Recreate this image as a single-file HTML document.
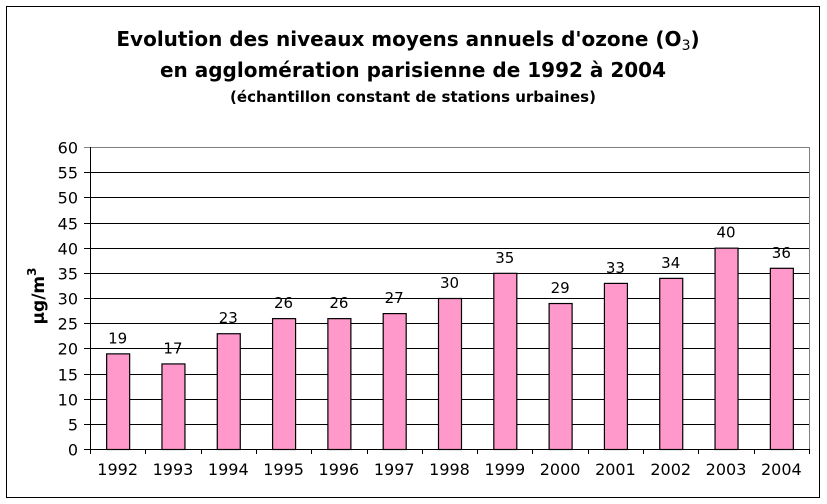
<!DOCTYPE html>
<html><head><meta charset="utf-8"><style>
body{margin:0;background:#fff;}
svg{display:block;font-family:"DejaVu Sans","Liberation Sans",sans-serif;}
</style></head><body>
<svg id="chart" width="827" height="504">
<rect x="6.5" y="6.5" width="813" height="491" fill="#fff" stroke="#000"/>
<text x="408" y="46" text-anchor="middle" font-size="20" font-weight="bold">Evolution des niveaux moyens annuels d'ozone (O<tspan font-size="14" font-weight="normal" dy="4">3</tspan><tspan dy="-4">)</tspan></text>
<text x="413" y="77" text-anchor="middle" font-size="20" font-weight="bold">en agglomération parisienne de 1992 à 2004</text>
<text x="413" y="102" text-anchor="middle" font-size="15" font-weight="bold">(échantillon constant de stations urbaines)</text>
<text transform="translate(44,296) rotate(-90)" text-anchor="middle" font-size="17" font-weight="bold">µg/m<tspan font-size="12" dy="-8">3</tspan></text>
<g id="grid"></g><g id="bars"></g><g id="axes"></g>
</svg>
<script>
const categories=["1992","1993","1994","1995","1996","1997","1998","1999","2000","2001","2002","2003","2004"];
const values=[19,17,23,26,26,27,30,35,29,33,34,40,36];
const yTicks=[0,5,10,15,20,25,30,35,40,45,50,55,60];
const X0=90,X1=809,Y0=449,Y1=147,YMAX=60;
const ns="http://www.w3.org/2000/svg";
const cw=(X1-X0)/categories.length;
function y(v){return Y0-(v/YMAX)*(Y0-Y1);}
function xc(i){return X0+cw*(i+0.5);}
function mk(tag,attrs,parent,text){const e=document.createElementNS(ns,tag);for(const k in attrs)e.setAttribute(k,attrs[k]);if(text!==undefined)e.textContent=text;document.getElementById(parent).appendChild(e);return e;}
yTicks.forEach(t=>{
  const yy=Math.round(y(t))+0.5;
  const g=mk('line',{x1:X0-6,x2:X1,y1:yy,y2:yy,stroke:t===60?'#808080':'#000'},'grid');
  
  
  const l=mk('text',{x:X0-12,y:yy+6,'text-anchor':'end','font-size':16},'grid',String(t));
  
  
});
values.forEach((v,i)=>{
  const w=23,x=xc(i)-w/2;
  const b=mk('rect',{x:x+0.5,y:y(v)+0.5,width:w,height:Y0-y(v),fill:'#ff99cc',stroke:'#000','stroke-width':1.2},'bars');
  
  
  const t=mk('text',{x:xc(i),y:y(v)-10,'text-anchor':'middle','font-size':15},'bars',String(v));
  
  
  const c=mk('text',{x:xc(i),y:Y0+26,'text-anchor':'middle','font-size':16},'axes',categories[i]);
  
  
});
for(let i=0;i<=categories.length;i++){
  const xx=Math.round(X0+cw*i)+0.5;
  const tk=mk('line',{x1:xx,x2:xx,y1:Y0,y2:Y0+5,stroke:'#000'},'axes');
  
  
}
const ya=mk('line',{x1:X0+0.5,x2:X0+0.5,y1:Y1,y2:Y0+1,stroke:'#000'},'axes');


const ra=mk('line',{x1:X1+0.5,x2:X1+0.5,y1:Y1,y2:Y0,stroke:'#808080'},'axes');


</script>
</body></html>
